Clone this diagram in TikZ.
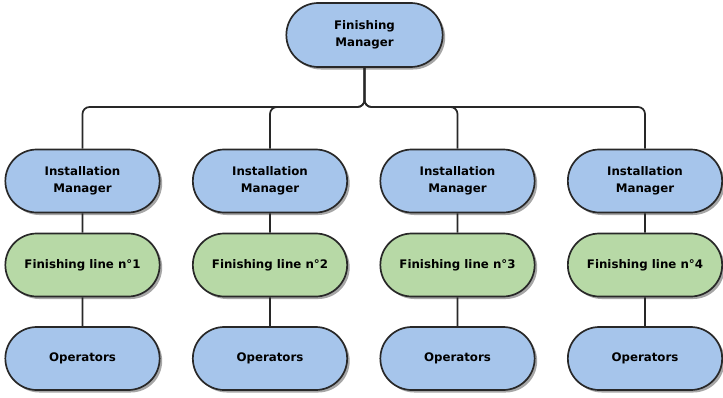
\documentclass[tikz,border=0pt]{standalone}
\usepackage{fontspec}
\setmainfont{DejaVu Sans}
\usetikzlibrary{shapes.misc,shadows}
\definecolor{orgblue}{RGB}{166,197,235}
\definecolor{orggreen}{RGB}{183,217,166}
\definecolor{orgline}{RGB}{40,40,40}

\begin{document}
\begin{tikzpicture}[x=1pt,y=-1pt,
  box/.style={rounded rectangle, draw=orgline, line width=1.7pt, minimum width=161pt, minimum height=63pt, align=center, font=\fontsize{11.8}{17.5}\selectfont\bfseries, drop shadow={shadow xshift=2.5pt, shadow yshift=-2.5pt, fill=black, opacity=0.35}},
  link/.style={orgline, line width=1.7pt, rounded corners=7pt}]
  \useasboundingbox (0,0) rectangle (723,397);
  \node[box,fill=orgblue,minimum width=163pt,minimum height=64pt] (fm) at (364.5,35) {Finishing\\Manager};
  \coordinate (bus) at (364.5,107);
  \foreach \i/\x in {1/82.5,2/270,3/457.5,4/645} {
    \node[box,fill=orgblue] (im\i) at (\x,181) {Installation\\Manager};
    \node[box,fill=orggreen] (fl\i) at (\x,265) {Finishing line n°\i};
    \node[box,fill=orgblue] (op\i) at (\x,358.5) {Operators};
    \draw[link] (fm.south) -- (bus) -| (im\i.north);
    \draw[link] (im\i) -- (fl\i);
    \draw[link] (fl\i) -- (op\i);
  }
\end{tikzpicture}
\end{document}
